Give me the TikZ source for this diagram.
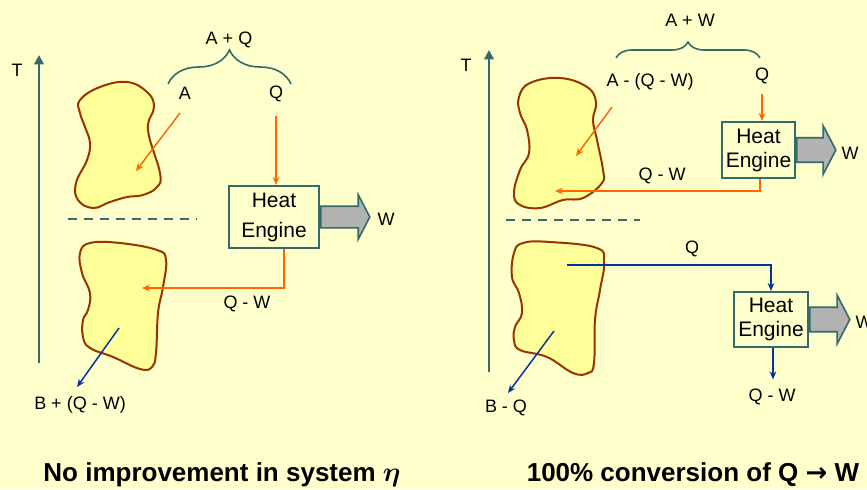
\documentclass[tikz,border=0pt]{standalone}
\usepackage{fontspec}
\setmainfont{Liberation Sans}
\newfontfamily\arrowfont{DejaVu Sans}
\usepackage{xcolor}
\usetikzlibrary{arrows.meta,positioning,shapes.arrows,decorations.pathreplacing}
\definecolor{bgyel}{HTML}{FFFFCC}
\definecolor{blobfill}{HTML}{FFFF99}
\definecolor{blobedge}{HTML}{993300}
\definecolor{tealline}{HTML}{336B6B}
\definecolor{orng}{HTML}{FF6600}
\definecolor{blu}{HTML}{0033A0}
\definecolor{wgray}{HTML}{B2B2B2}

\begin{document}
\begin{tikzpicture}[x=0.75pt,y=-0.75pt,>=Stealth,
 lab/.style={font=\fontsize{13.5}{16}\selectfont,inner sep=1pt},
 heng/.style={draw=tealline,line width=1.5pt,fill=bgyel,align=center,inner sep=0pt,
   font=\fontsize{15.75}{18}\selectfont},
 wout/.style={single arrow,draw=tealline,line width=1.2pt,fill=wgray,anchor=tail,
   inner xsep=0pt,single arrow tip angle=125},
 blob/.style={draw=blobedge,fill=blobfill,line width=1.5pt},
 oarr/.style={-{Stealth[length=6pt,width=5pt]},orng,line width=1.1pt},
 barr/.style={-{Stealth[length=6pt,width=5pt]},blu,line width=1.1pt},
 tax/.style={-{Triangle[length=7pt,width=7pt]},tealline,line width=2.2pt},
 cut/.style={tealline,line width=1.2pt,dash pattern=on 7pt off 5pt},
 grp/.style={tealline,line width=1.2pt,decorate,decoration={brace,amplitude=#1}},
 ttl/.style={font=\bfseries\fontsize{19.5}{22}\selectfont,inner sep=0pt}]
\useasboundingbox (0,0) rectangle (867,489);
\fill[bgyel] (0,0) rectangle (867,489);

% ---- left: no improvement
\node[lab] (tl) at (17,70) {T};
\coordinate (tl0) at (39,363);
\coordinate (tl1) at (39,55);
\draw[tax] (tl0) -- (tl1);
\draw[blob] plot[smooth cycle,tension=0.7] coordinates {(80,100) (100,87) (127,82) (147,92)
 (154,107) (148,130) (160,173) (157,187) (143,195) (127,197) (110,202) (93,208) (78,200)
 (76,183) (87,160) (90,143) (85,127) (80,113)};
\draw[blob] plot[smooth cycle,tension=0.7] coordinates {(80,253) (90,243) (120,243) (157,250)
 (166,260) (163,287) (158,313) (156,353) (152,367) (140,369) (113,357) (90,348) (83,337)
 (83,320) (88,310) (90,293) (82,273)};
\draw[cut] (68,219) -- (197,219);
\coordinate (gl0) at (168,84);
\coordinate (gl1) at (291,84);
\draw[grp=25.5pt] (gl0) -- (gl1);
\node[lab] (aq) at (229,40) {A + Q};
\node[lab] (la) at (185,93) {A};
\node[lab] (lq) at (276,94) {Q};
\node[heng,minimum width=67.5pt,minimum height=46.5pt,font=\fontsize{15.75}{22.5}\selectfont]
 (he1) at (274,217) {Heat\\Engine};
\node[wout,minimum height=36.75pt,inner ysep=7.5pt,single arrow head extend=8.6pt]
 (w1) at (he1.east) {};
\node[lab] (lw1) at (386,219) {W};
\coordinate (a0) at (180,113);
\coordinate (a1) at (136,171);
\draw[oarr] (a0) -- (a1);
\draw[oarr,shorten <=9pt] (lq.south) -- (lq.south |- he1.north);
\coordinate (b1) at (142,288);
\draw[oarr] ([xshift=7.5pt]he1.south) |- (b1);
\node[lab] (qw1) at (247,304) {Q - W};
\coordinate (b2) at (119,328);
\coordinate (b3) at (77,387);
\draw[barr] (b2) -- (b3);
\node[lab] (lb) at (80,405) {B + (Q - W)};
\node[ttl,anchor=base] (t1) at (222,481) {No improvement in system {\boldmath$\eta$}};

% ---- right: 100% conversion
\node[lab] (tr) at (466,65) {T};
\coordinate (tr0) at (489,372);
\coordinate (tr1) at (489,50);
\draw[tax] (tr0) -- (tr1);
\draw[blob] plot[smooth cycle,tension=0.7] coordinates {(519,97) (530,83) (560,78) (587,87)
 (596,102) (593,120) (597,140) (603,170) (602,183) (583,198) (563,200) (540,208) (520,205)
 (514,193) (520,170) (529,153) (527,130) (520,113)};
\draw[blob] plot[smooth cycle,tension=0.7] coordinates {(514,253) (523,243) (550,242) (597,248)
 (604,263) (600,290) (595,320) (594,363) (588,373) (573,373) (547,357) (520,350) (514,340)
 (515,327) (522,313) (519,293) (512,277)};
\draw[cut] (506,220) -- (640,220);
\coordinate (gr0) at (616,58);
\coordinate (gr1) at (760,58);
\draw[grp=12pt] (gr0) -- (gr1);
\node[lab] (aw) at (690,20) {A + W};
\node[lab] (laq) at (650,82) {A - (Q - W)};
\node[lab] (lq2) at (762,76) {Q};
\node[heng,minimum width=54.75pt,minimum height=42pt] (he2) at (758.5,150) {Heat\\Engine};
\node[wout,minimum height=29.25pt,inner ysep=8.6pt,single arrow head extend=9pt]
 (w2) at (he2.east) {};
\node[lab] (lw2) at (850,153) {W};
\coordinate (c0) at (612,107);
\coordinate (c1) at (576,156);
\draw[oarr] (c0) -- (c1);
\draw[oarr,shorten <=6pt] (lq2.south) -- (lq2.south |- he2.north);
\coordinate (c2) at (555,191);
\draw[oarr] ([xshift=1pt]he2.south) |- (c2);
\node[lab] (qw2) at (662,176) {Q - W};
\node[heng,minimum width=55.5pt,minimum height=41.25pt] (he3) at (771,319.5) {Heat\\Engine};
\node[wout,minimum height=30pt,inner ysep=8.6pt,single arrow head extend=9pt]
 (w3) at (he3.east) {};
\node[lab,anchor=west] (lw3) at (854,322) {W};
\coordinate (d0) at (567,265);
\draw[barr] (d0) -| (he3.north);
\node[lab] (lq3) at (692,249) {Q};
\node[lab] (qw3) at (772,397) {Q - W};
\draw[barr,shorten >=6pt] ([xshift=1.5pt]he3.south) -- ([xshift=1.5pt]he3.south |- qw3.north);
\coordinate (d1) at (554,331);
\coordinate (d2) at (508,393);
\draw[barr] (d1) -- (d2);
\node[lab] (lbq) at (506,408) {B - Q};
\node[ttl,anchor=base] (t2) at (693,481) {100\% conversion of Q {\arrowfont\bfseries →} W};
\end{tikzpicture}
\end{document}
